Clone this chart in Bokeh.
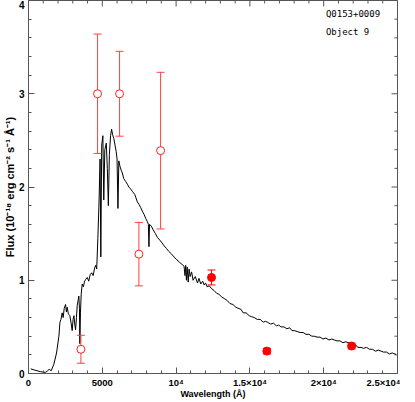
import math
from bokeh.plotting import figure
from bokeh.models import Range1d, SingleIntervalTicker
from bokeh.core.properties import value
from bokeh.embed import file_html
from bokeh.resources import INLINE

# Spectrum (wavelength in Angstrom, flux in 1e-18 erg/cm2/s/A)
wavelength = [150, 450, 800, 1150, 1300, 1400, 1540, 1720, 1900, 2060, 2130, 2200, 2280, 2350, 2420,
              2510, 2570, 2620, 2700, 2800, 2880, 2960, 3020, 3080, 3140, 3190, 3250, 3300, 3360, 3410,
              3450, 3480, 3520, 3570, 3640, 3720, 3800, 3880, 3980, 4080, 4180, 4280, 4380, 4480, 4550,
              4620, 4700, 4780, 4850, 4900, 4960, 5040, 5100, 5170, 5270, 5340, 5410, 5480, 5560, 5630,
              5700, 5780, 5860, 5940, 6000, 6060, 6120, 6200, 6280, 6360, 6450, 6580, 6700, 6800, 6920,
              7050, 7200, 7375, 7500, 7600, 7710, 7850, 7950, 8050, 8120, 8160, 8200, 8320, 8450, 8600,
              8730, 8900, 9050, 9180, 9350, 9500, 9700, 9860, 10050, 10250, 10400, 10540, 10600, 10650,
              10700, 10750, 10820, 10880, 10950, 11050, 11150, 11300, 11450, 11550, 11670, 11800, 11900,
              12000, 12100, 12250, 12400, 12570, 12750, 12900, 13100, 13300, 13480, 13650, 13850, 14050,
              14200, 14380, 14550, 14750, 14950, 15100, 15290, 15500, 15700, 15900, 16050, 16190, 16400,
              16600, 16800, 16950, 17100, 17300, 17500, 17700, 17850, 18000, 18200, 18400, 18600, 18800,
              19000, 19200, 19355, 19550, 19750, 19950, 20150, 20350, 20550, 20712, 20900, 21100, 21300,
              21500, 21650, 21845, 22000, 22150, 22300, 22524, 22700, 22900, 23100, 23300, 23500, 23700,
              23881, 24050, 24250, 24450, 24650, 24898]
flux = [0.05, 0.035, 0.02, 0.012, 0.03, 0.045, 0.03, 0.10, 0.22, 0.40, 0.55, 0.58, 0.65, 0.60, 0.70,
        0.74, 0.66, 0.71, 0.64, 0.62, 0.55, 0.46, 0.58, 0.62, 0.52, 0.47, 0.60, 0.73, 0.78, 0.83,
        0.70, 0.32, 0.65, 0.85, 0.96, 0.93, 0.99, 1.01, 1.03, 0.99, 1.06, 1.08, 1.05, 1.13, 1.16,
        1.12, 1.45, 1.85, 2.30, 1.25, 2.45, 2.55, 1.86, 2.40, 2.47, 2.20, 1.80, 2.35, 2.55, 2.62,
        2.56, 2.52, 2.45, 2.38, 2.30, 1.77, 2.28, 2.22, 2.18, 2.15, 2.09, 2.06, 2.03, 2.00, 1.98,
        1.95, 1.92, 1.84, 1.81, 1.78, 1.74, 1.70, 1.66, 1.63, 1.60, 1.36, 1.60, 1.58, 1.54, 1.50,
        1.46, 1.43, 1.40, 1.37, 1.34, 1.31, 1.28, 1.25, 1.22, 1.19, 1.17, 1.15, 1.05, 1.16,
        1.00, 1.14, 0.98, 1.12, 1.04, 1.09, 1.00, 1.04, 0.97, 1.02, 0.96, 0.99, 0.95,
        0.97, 0.93, 0.94, 0.91, 0.89, 0.86, 0.85, 0.82, 0.80, 0.78, 0.75, 0.74, 0.71,
        0.70, 0.69, 0.65, 0.65, 0.62, 0.61, 0.60, 0.58, 0.58, 0.55, 0.56, 0.55, 0.53,
        0.54, 0.51, 0.52, 0.50, 0.50, 0.48, 0.49, 0.46, 0.46, 0.45, 0.44, 0.44, 0.42,
        0.42, 0.40, 0.40, 0.39, 0.39, 0.37, 0.38, 0.36, 0.37, 0.36, 0.35, 0.35, 0.33,
        0.34, 0.33, 0.33, 0.30, 0.31, 0.28, 0.28, 0.27, 0.28, 0.26, 0.26, 0.24, 0.25,
        0.24, 0.23, 0.23, 0.21, 0.22, 0.205]

# Photometry: open circles
open_wl = [3550, 4680, 6170, 7480, 8950]
open_flux = [0.26, 3.00, 3.00, 1.28, 2.39]
open_err = [0.15, 0.64, 0.455, 0.34, 0.84]

# Photometry: filled circles
fill_wl = [12400, 16150, 21890]
fill_flux = [1.03, 0.24, 0.295]
fill_err = [0.08, 0.03, 0.03]

x_tick_labels = {0: "0", 5000: "5000", 10000: "10\u2074", 15000: "1.5\u00d710\u2074",
                 20000: "2\u00d710\u2074", 25000: "2.5\u00d710\u2074"}
x_major = [0, 5000, 10000, 15000, 20000, 25000]
y_major = [0, 1, 2, 3, 4]
x_minor_step = 1000
y_minor_step = 0.2
x_title = "Wavelength (\u00c5)"
y_title = "Flux (10\u207b\u00b9\u2078 erg cm\u207b\u00b2 s\u207b\u00b9 \u00c5\u207b\u00b9)"
label_texts = ["Q0153+0009", "Object 9"]
label_x = [20150, 20150]
label_y = [3.86, 3.66]

X_MIN, X_MAX = 0, 25000
Y_MIN, Y_MAX = 0, 4

FONT = "Liberation Sans"
AXIS_COL = "#555555"

p = figure(width=400, height=401, x_range=Range1d(X_MIN, X_MAX), y_range=Range1d(Y_MIN, Y_MAX),
           output_backend="svg", toolbar_location=None,
           min_border_left=20, min_border_right=3, min_border_top=0, min_border_bottom=0)
p.xgrid.visible = False
p.ygrid.visible = False
p.outline_line_color = AXIS_COL
p.outline_line_width = 1
p.background_fill_color = "white"

def style_axis(ax):
    ax.axis_line_color = AXIS_COL
    ax.major_tick_line_color = AXIS_COL
    ax.minor_tick_line_color = AXIS_COL
    ax.major_tick_in = 6
    ax.major_tick_out = 0
    ax.minor_tick_in = 3
    ax.minor_tick_out = 0
    ax.major_label_text_font = FONT
    ax.major_label_text_font_style = "bold"
    ax.major_label_text_color = "black"
    ax.axis_label_text_font = FONT
    ax.axis_label_text_font_style = "bold"
    ax.axis_label_text_color = "black"

p.xaxis.ticker = SingleIntervalTicker(interval=5000, num_minor_ticks=5)
p.yaxis.ticker = SingleIntervalTicker(interval=1, num_minor_ticks=5)
p.xaxis.major_label_overrides = x_tick_labels
for ax in p.xaxis:
    style_axis(ax)
    ax.major_label_text_font_size = "9.5px"
    ax.major_label_standoff = 3
    ax.axis_label = x_title
    ax.axis_label_standoff = -2
    ax.axis_label_text_font_size = "9px"
for ax in p.yaxis:
    style_axis(ax)
    ax.major_label_text_font_size = "10px"
    ax.major_label_standoff = 4
    ax.major_label_orientation = "horizontal"
    ax.axis_label = y_title
    ax.axis_label_standoff = 0
    ax.axis_label_text_font_size = "11px"

# mirrored inward ticks on top and right edges (markers clipped at the frame)
x_minor = [v * x_minor_step for v in range(int(X_MAX / x_minor_step) + 1)]
x_minor = [v for v in x_minor if v not in x_major]
y_minor = [round(v * y_minor_step, 2) for v in range(int(Y_MAX / y_minor_step) + 1)]
y_minor = [v for v in y_minor if v not in y_major]
p.scatter(x_major, [Y_MAX] * len(x_major), marker="dash", angle=math.pi / 2, size=12,
          line_color=AXIS_COL, line_width=1)
p.scatter(x_minor, [Y_MAX] * len(x_minor), marker="dash", angle=math.pi / 2, size=6,
          line_color=AXIS_COL, line_width=1)
p.scatter([X_MAX] * len(y_major), y_major, marker="dash", size=12,
          line_color=AXIS_COL, line_width=1)
p.scatter([X_MAX] * len(y_minor), y_minor, marker="dash", size=6,
          line_color=AXIS_COL, line_width=1)

# spectrum
p.line(wavelength, flux, line_color="black", line_width=1)

RED = "#ff2020"
def error_bars(xs, ys, errs, col):
    lo = [y - e for y, e in zip(ys, errs)]
    hi = [y + e for y, e in zip(ys, errs)]
    p.segment(x0=xs, y0=lo, x1=xs, y1=hi, line_color=col, line_width=1)
    p.scatter(xs, lo, marker="dash", size=8, line_color=col, line_width=1)
    p.scatter(xs, hi, marker="dash", size=8, line_color=col, line_width=1)

error_bars(open_wl, open_flux, open_err, "#ff4040")
error_bars(fill_wl, fill_flux, fill_err, "red")

p.scatter(open_wl, open_flux, marker="circle", size=8, fill_color="white",
          line_color=RED, line_width=1)
p.scatter(fill_wl, fill_flux, marker="circle", size=8, fill_color="red",
          line_color="red", line_width=1)

p.text(x=label_x, y=label_y, text=label_texts, text_font=value("DejaVu Sans Mono"),
       text_font_size="9px", text_baseline="middle", text_align="left", text_color="black")

open("out.html", "w").write(file_html(p, INLINE))
